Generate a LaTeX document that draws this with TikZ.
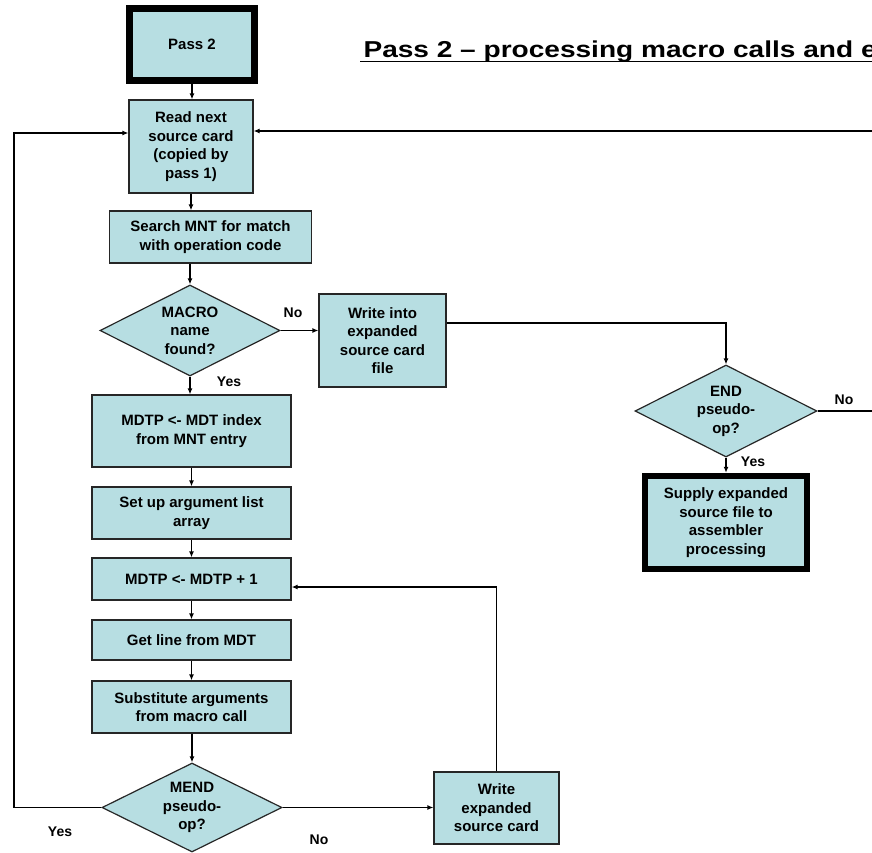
\documentclass[tikz,border=0pt]{standalone}
\usepackage{fontspec}
\setmainfont{Liberation Sans}
\usetikzlibrary{shapes.geometric,arrows.meta}
\definecolor{boxfill}{RGB}{183,222,226}

\begin{document}
\begin{tikzpicture}[x=1pt,y=-1pt,
    box/.style={draw=black!85,fill=boxfill,line width=1.2pt,align=center,inner sep=0pt,
      font=\bfseries\fontsize{15}{18.5}\selectfont},
    termbox/.style={box,draw=black,line width=6.5pt},
    decision/.style={diamond,draw=black!85,fill=boxfill,line width=1.2pt,align=center,
      inner sep=0pt,shape aspect=2,font=\bfseries\fontsize{15}{18.5}\selectfont},
    flow/.style={line width=1.2pt,-{Latex[length=6pt,width=5pt]}},
    lbl/.style={font=\bfseries\fontsize{14}{16}\selectfont}]
              \useasboundingbox (0,0) rectangle (872,852);
              \clip (0,0) rectangle (872,852);
              \node[anchor=base west,font=\bfseries\fontsize{23}{28}\selectfont\addfontfeature{FakeStretch=1.22}] (title) at (360,57.5) {Pass 2 – processing macro calls and e};
              \draw[line width=1.8pt] ([yshift=-4pt]title.base west) -- ([yshift=-4pt]title.base east);

              \node[termbox,minimum width=125,minimum height=72] (pass2) at (192,44.5) {Pass 2};
              \node[box,minimum width=124,minimum height=93] (read) at (191,146.5) {Read next\\source card\\(copied by\\pass 1)};
              \node[box,minimum width=202,minimum height=52] (search) at (210.5,237) {Search MNT for\,\,match\\with operation code};
              \node[decision,minimum width=180,minimum height=91] (macro) at (190,330.5) {MACRO\\name\\found?};
              \node[box,minimum width=127,minimum height=93] (writeinto) at (382.5,340.5) {Write into\\expanded\\source card\\file};
              \node[box,minimum width=199,minimum height=72] (mdtp) at (191.5,431) {MDTP <- MDT index\\from MNT entry};
              \node[box,minimum width=199,minimum height=52] (setup) at (191.5,513) {Set up argument list\\array};
              \node[box,minimum width=199,minimum height=42] (incr) at (191.5,579) {MDTP <- MDTP + 1};
              \node[box,minimum width=199,minimum height=40] (getline) at (191.5,640) {Get line from MDT};
              \node[box,minimum width=199,minimum height=52] (subst) at (191.5,707) {Substitute arguments\\from macro call};
              \node[decision,minimum width=180,minimum height=89] (mend) at (192,807.5) {MEND\\pseudo-\\op?};
              \node[box,minimum width=125,minimum height=72] (writeexp) at (496.5,808) {Write\\expanded\\source card};
              \node[decision,minimum width=182,minimum height=92] (enddec) at (726,411) {END\\pseudo-\\op?};
              \node[termbox,minimum width=162,minimum height=93] (supply) at (726,522.5) {Supply expanded\\source file to\\assembler\\processing};

              \node[lbl] (nomacro) at (293,313) {No};
              \node[lbl] (yesmacro) at (229,382) {Yes};
              \node[lbl] (noend) at (844,400) {No};
              \node[lbl] (yesend) at (753,462) {Yes};
              \node[lbl] (yesmend) at (60,832) {Yes};
              \node[lbl] (nomend) at (319,840) {No};

              \draw[flow] (pass2.south) -- (pass2.south |- read.north);
              \draw[flow] (read.south) -- (read.south |- search.north);
              \draw[flow] (macro.north |- search.south) -- (macro.north);
              \draw[flow] (macro.east) -- (macro.east -| writeinto.west);
              \draw[flow] ([yshift=17.5pt]writeinto.east) -| (enddec.north);
              \draw[flow] (enddec.east) -- ++(60,0) |- ([yshift=15.5pt]read.east);
              \draw[flow] (enddec.south) -- (supply.north);
              \draw[flow] (macro.south) -- (macro.south |- mdtp.north);
              \draw[flow] (mdtp) -- (setup);
              \draw[flow] (setup) -- (incr);
              \draw[flow] (incr) -- (getline);
              \draw[flow] (getline) -- (subst);
              \draw[flow] (subst.south -| mend.north) -- (mend.north);
              \draw[flow] (mend.west) -- (14,807.5) |- ([yshift=13.5pt]read.west);
              \draw[flow] (mend.east) -- (mend.east -| writeexp.west);
              \draw[flow] (writeexp.north) |- ([yshift=-8pt]incr.east);
            \end{tikzpicture}
\end{document}
